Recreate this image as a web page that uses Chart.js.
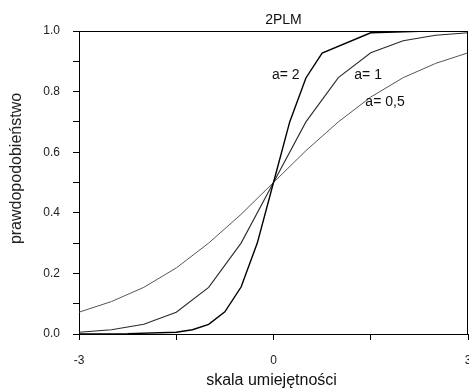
<!DOCTYPE html>
<html>
<head>
<meta charset="utf-8">
<script src="https://cdn.jsdelivr.net/npm/chart.js@4/dist/chart.umd.min.js"></script>
<style>
  html, body { margin: 0; padding: 0; background: #fff; overflow: hidden; }
  #wrap { width: 469px; height: 388px; position: relative; }
</style>
</head>
<body>
<div id="wrap"><canvas id="c"></canvas></div>
<script>
// ---- data ----
const chartTitle = "2PLM";
const xAxisTitle = "skala umiejętności";
const yAxisTitle = "prawdopodobieństwo";
const xTickLabels = { "-3": "-3", "0": "0", "3": "3" };
const yTickLabels = ["0.0", "0.2", "0.4", "0.6", "0.8", "1.0"];

const theta2 = [-3, -2.25, -1.5, -1.25, -1, -0.75, -0.5, -0.25, 0, 0.25, 0.5, 0.75, 1.5, 2.25, 3];
const p2     = [0.000, 0.001, 0.006, 0.014, 0.032, 0.073, 0.155, 0.300, 0.500, 0.700, 0.845, 0.927, 0.994, 0.999, 1.000];

const theta1 = [-3, -2.5, -2, -1.5, -1, -0.5, 0, 0.5, 1, 1.5, 2, 2.5, 3];
const p1     = [0.006, 0.014, 0.032, 0.072, 0.154, 0.300, 0.500, 0.700, 0.846, 0.928, 0.968, 0.986, 0.994];

const theta05 = [-3, -2.5, -2, -1.5, -1, -0.5, 0, 0.5, 1, 1.5, 2, 2.5, 3];
const p05     = [0.072, 0.107, 0.154, 0.218, 0.300, 0.395, 0.500, 0.605, 0.700, 0.782, 0.846, 0.893, 0.928];

const seriesLabels = ["a= 2", "a= 1", "a= 0,5"];
// label anchor positions in data units (x, y)
const labelX = [0.19, 1.46, 1.72];
const labelY = [0.855, 0.855, 0.766];

const toPts = (xs, ys) => xs.map((x, i) => ({ x: x, y: ys[i] }));

const FONT = "'Liberation Sans', Arial, sans-serif";

const boxAndText = {
  id: 'boxAndText',
  afterDraw(chart) {
    const { ctx, chartArea: a, scales } = chart;
    ctx.save();
    // top & right frame lines
    ctx.strokeStyle = '#000';
    ctx.lineWidth = 1;
    ctx.beginPath();
    ctx.moveTo(a.left, a.top + 0.5);
    ctx.lineTo(a.right - 0.5, a.top + 0.5);
    ctx.lineTo(a.right - 0.5, a.bottom);
    ctx.stroke();

    ctx.fillStyle = '#111';
    // series annotations
    ctx.font = '14px ' + FONT;
    ctx.textAlign = 'center';
    ctx.textBaseline = 'middle';
    seriesLabels.forEach((t, i) => {
      ctx.fillText(t, scales.x.getPixelForValue(labelX[i]), scales.y.getPixelForValue(labelY[i]));
    });

    // chart title
    ctx.font = '14px ' + FONT;
    ctx.fillText(chartTitle, (a.left + a.right) / 2 + 10, a.top - 11);

    // x axis title
    ctx.font = '16px ' + FONT;
    ctx.fillText(xAxisTitle, (a.left + a.right) / 2 - 2, a.bottom + 47);

    // y axis title
    ctx.translate(17, (a.top + a.bottom) / 2 - 14);
    ctx.rotate(-Math.PI / 2);
    ctx.font = '16px ' + FONT;
    ctx.fillStyle = '#222';
    ctx.fillText(yAxisTitle, 0, 0);
    ctx.restore();
  }
};

new Chart(document.getElementById('c'), {
  type: 'scatter',
  data: {
    datasets: [
      { label: seriesLabels[0], data: toPts(theta2, p2), showLine: true, borderColor: '#000', borderWidth: 1.4, pointRadius: 0, tension: 0, fill: false },
      { label: seriesLabels[1], data: toPts(theta1, p1), showLine: true, borderColor: '#2a2a2a', borderWidth: 1.1, pointRadius: 0, tension: 0, fill: false },
      { label: seriesLabels[2], data: toPts(theta05, p05), showLine: true, borderColor: '#555', borderWidth: 1, pointRadius: 0, tension: 0, fill: false }
    ]
  },
  options: {
    responsive: true,
    maintainAspectRatio: false,
    animation: false,
    devicePixelRatio: 1,
    layout: { padding: { top: 31, right: 1, left: 0, bottom: 0 } },
    plugins: { legend: { display: false }, title: { display: false }, tooltip: { enabled: false } },
    scales: {
      x: {
        type: 'linear', min: -3, max: 3,
        afterFit(s) { s.height = 54; s.paddingRight = 0; s.paddingLeft = 0; },
        ticks: {
          stepSize: 1.5, autoSkip: false, maxRotation: 0, padding: 13,
          color: '#222', font: { size: 12, family: FONT },
          callback: (v) => (xTickLabels[String(v)] !== undefined ? xTickLabels[String(v)] : '')
        },
        grid: { display: true, drawOnChartArea: false, drawTicks: true, tickLength: 6, color: '#000', lineWidth: 1 },
        border: { display: true, color: '#000', width: 1 }
      },
      y: {
        min: 0, max: 1,
        afterFit(s) { s.width = 79; },
        ticks: {
          stepSize: 0.1, autoSkip: false, padding: 13,
          color: '#222', font: { size: 12, family: FONT },
          callback: (v) => {
            const k = Math.round(v * 10);
            return k % 2 === 0 ? yTickLabels[k / 2] : '';
          }
        },
        grid: { display: true, drawOnChartArea: false, drawTicks: true, tickLength: 6, color: '#000', lineWidth: 1 },
        border: { display: true, color: '#000', width: 1 }
      }
    }
  },
  plugins: [boxAndText]
});
</script>
</body>
</html>
